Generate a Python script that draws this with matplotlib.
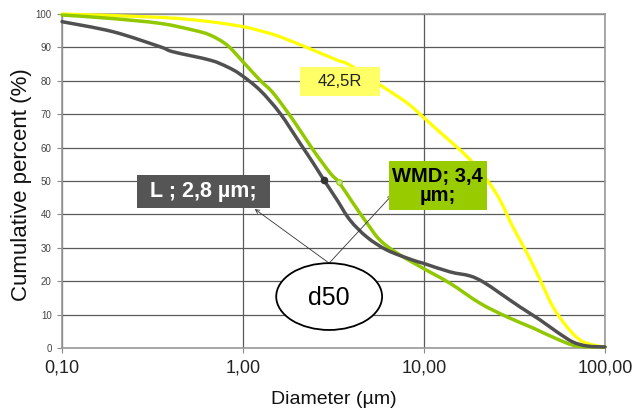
import matplotlib
matplotlib.use("Agg")
import numpy as np
import matplotlib.pyplot as plt
from matplotlib.patches import Ellipse, Rectangle, PathPatch
from matplotlib.path import Path
from matplotlib.ticker import FixedLocator, NullLocator

plt.rcParams['font.family'] = ['Liberation Sans', 'DejaVu Sans']

# Data
l_d = [0.10, 0.191, 0.348, 0.41, 0.657, 0.816, 0.962, 1.24, 1.60, 2.06, 2.44, 2.80, 3.31, 3.90, 4.84, 6.25, 8.69, 9.87, 13.9, 17.9, 21.2, 26.3, 33.9, 43.8, 54.3, 66.5, 79.6, 100.0]
l_v = [97.7, 94.7, 90.2, 88.7, 86.2, 84.2, 82.0, 77.2, 70.3, 61.4, 55.4, 50.3, 44.3, 38.3, 33.2, 29.3, 26.3, 25.4, 22.8, 21.6, 19.8, 16.4, 12.3, 8.4, 4.8, 1.8, 0.6, 0.3]

wmd_d = [0.10, 0.184, 0.348, 0.529, 0.657, 0.816, 1.0, 1.24, 1.47, 1.89, 2.44, 3.03, 3.39, 4.05, 4.84, 5.71, 7.10, 9.87, 13.9, 20.4, 28.8, 40.0, 54.3, 70.0, 100.0]
wmd_v = [99.7, 98.7, 97.2, 95.2, 93.7, 90.7, 85.7, 80.2, 76.3, 68.3, 59.3, 52.4, 49.6, 43.4, 37.4, 32.3, 28.4, 23.9, 19.4, 13.4, 9.3, 6.0, 2.7, 0.6, 0.3]

r_d = [0.10, 0.348, 0.657, 1.0, 1.24, 1.60, 2.44, 3.31, 3.90, 5.71, 8.05, 9.87, 12.2, 17.3, 22.3, 26.3, 31.0, 37.1, 43.8, 51.6, 61.7, 72.8, 85.9, 100.0]
r_v = [100.0, 99.0, 97.7, 96.2, 95.0, 93.2, 89.2, 86.2, 84.7, 78.8, 73.4, 69.2, 64.7, 57.3, 50.3, 44.3, 36.2, 28.4, 20.4, 12.3, 6.3, 2.4, 0.9, 0.3]

d50_l = (2.80, 50.3)
d50_wmd = (3.39, 49.6)

x_ticks = [0.1, 1, 10, 100]
x_labels = ["0,10", "1,00", "10,00", "100,00"]
y_ticks = list(range(0, 101, 10))

dark = "#505050"
green = "#92c800"
yellow = "#ffff00"


def smooth_path(xs, ys):
    """Excel-style smoothed line: cubic Bezier segments through the data
    points, control points computed in the log-x space of the axis."""
    lx = np.log10(np.asarray(xs, float))
    y = np.asarray(ys, float)
    n = len(lx)
    verts = [(xs[0], ys[0])]
    codes = [Path.MOVETO]
    for i in range(n - 1):
        p0 = (lx[max(i - 1, 0)], y[max(i - 1, 0)])
        p1 = (lx[i], y[i])
        p2 = (lx[i + 1], y[i + 1])
        p3 = (lx[min(i + 2, n - 1)], y[min(i + 2, n - 1)])
        c1 = (p1[0] + (p2[0] - p0[0]) / 6, p1[1] + (p2[1] - p0[1]) / 6)
        c2 = (p2[0] - (p3[0] - p1[0]) / 6, p2[1] - (p3[1] - p1[1]) / 6)
        verts += [(10 ** c1[0], c1[1]), (10 ** c2[0], c2[1]), (xs[i + 1], ys[i + 1])]
        codes += [Path.CURVE4] * 3
    return Path(verts, codes)


fig = plt.figure(figsize=(6.34, 4.16), dpi=100)
ax = fig.add_axes([62/634, 68/416, 543/634, 334/416])
ax.set_xscale("log")
ax.set_xlim(0.1, 100)
ax.set_ylim(0, 100)

for xs, ys, col, lw, z in [(r_d, r_v, yellow, 2.3, 3), (wmd_d, wmd_v, green, 2.5, 4), (l_d, l_v, dark, 2.5, 5)]:
    pp = PathPatch(smooth_path(xs, ys), fc="none", ec=col, lw=lw, capstyle="round",
                   joinstyle="round", zorder=z, transform=ax.transData)
    pp.set_clip_on(False)
    ax.add_patch(pp)

ax.plot([d50_l[0]], [d50_l[1]], "o", ms=4.5, color="#333333", zorder=6)
ax.plot([d50_wmd[0]], [d50_wmd[1]], "o", ms=4, mfc="#c8e890", mec=green, mew=0.8, zorder=6)

ax.set_xlim(0.1, 100)
ax.set_ylim(0, 100)
ax.xaxis.set_major_locator(FixedLocator(x_ticks))
ax.xaxis.set_minor_locator(NullLocator())
ax.set_xticklabels(x_labels, fontsize=13, color="#222222")
ax.set_yticks(y_ticks)
ax.set_yticklabels([str(v) for v in y_ticks], fontsize=7, color="#444444")
ax.tick_params(axis="both", length=3.5, color="#888888", direction="out")
ax.tick_params(axis="x", pad=5)
ax.tick_params(axis="y", pad=4)
ax.grid(True, which="major", color="#5a5a5a", lw=0.9)
ax.set_axisbelow(True)
for s in ax.spines.values():
    s.set_color("#999999")
    s.set_linewidth(1.2)

ax.set_ylabel("Cumulative percent (%)", fontsize=16, color="#111111", va="center")
ax.yaxis.set_label_coords(-40/543, 0.49)
ax.set_xlabel("Diameter (µm)", fontsize=14, color="#111111", va="center")
ax.xaxis.set_label_coords(0.5, -52/334)

# Annotation boxes
ax.add_patch(Rectangle((0.138, 0.419), 0.245, 0.099, transform=ax.transAxes,
                       fc="#555555", ec="none", zorder=8))
ax.text(0.2597, 0.4686, "L ; 2,8 µm;", transform=ax.transAxes, ha="center", va="center",
        fontsize=15.5, fontweight="bold", color="white", zorder=9)

ax.add_patch(Rectangle((0.602, 0.413), 0.180, 0.147, transform=ax.transAxes,
                       fc="#99cc00", ec="none", zorder=8))
ax.text(0.692, 0.4865, "WMD; 3,4\nµm;", transform=ax.transAxes, ha="center", va="center",
        fontsize=14.5, fontweight="bold", color="black", linespacing=1.0, zorder=9)

ax.add_patch(Rectangle((0.438, 0.754), 0.147, 0.087, transform=ax.transAxes,
                       fc="#ffff66", ec="none", zorder=8))
ax.text(0.512, 0.798, "42,5R", transform=ax.transAxes, ha="center", va="center",
        fontsize=12, color="#222222", zorder=9)

ell = Ellipse((0.492, 0.154), 0.195, 0.20, transform=ax.transAxes,
              fc="white", ec="black", lw=1.3, zorder=8)
ax.add_patch(ell)
ax.text(0.492, 0.150, "d50", transform=ax.transAxes, ha="center", va="center",
        fontsize=18, color="black", zorder=9)

for end in [(0.355, 0.416), (0.608, 0.458)]:
    ax.annotate("", xy=end, xycoords="axes fraction", xytext=(0.492, 0.254),
                textcoords="axes fraction",
                arrowprops=dict(arrowstyle="->", lw=0.6, color="#333333",
                                shrinkA=0, shrinkB=0, mutation_scale=7), zorder=7)

fig.savefig("out.png", dpi=100)
